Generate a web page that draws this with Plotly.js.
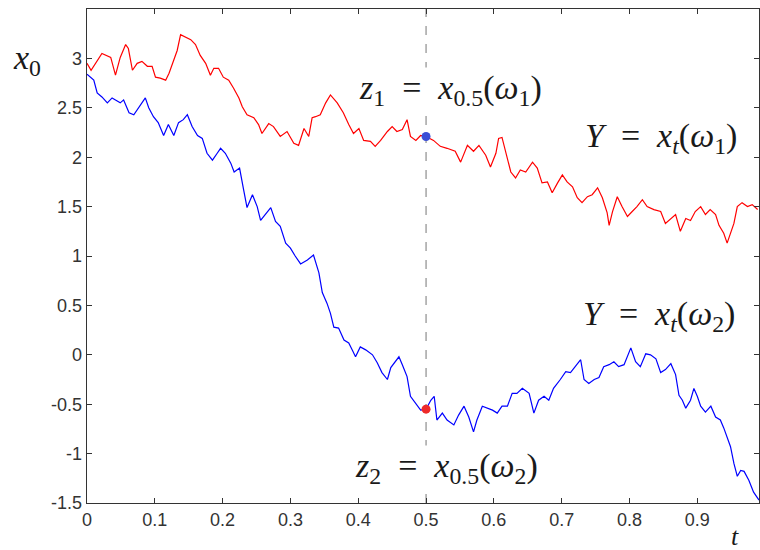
<!DOCTYPE html>
<html>
<head>
<meta charset="utf-8">
<script src="https://cdn.plot.ly/plotly-3.0.1.min.js"></script>
<style>
html,body{margin:0;padding:0;background:#fff;}
#warm{position:absolute;left:0;top:0;z-index:0;color:#fff;font-size:12px;line-height:14px;}
#chart{position:relative;z-index:1;width:760px;height:550px;}
</style>
</head>
<body>
<div id="warm"><span style="font-family:'Liberation Serif'">x <i>x</i></span> <span style="font-family:'Liberation Sans'">0</span></div>
<div id="chart"></div>
<script>
// Path ω1 (red)
const redT = [0,0.006,0.022,0.035,0.042,0.049,0.057,0.061,0.067,0.074,0.081,0.089,0.096,0.101,0.108,0.116,0.121,0.128,0.133,0.138,0.145,0.153,0.160,0.167,0.175,0.182,0.187,0.194,0.201,0.209,0.216,0.224,0.229,0.236,0.246,0.253,0.258,0.268,0.275,0.285,0.295,0.305,0.312,0.320,0.327,0.332,0.337,0.344,0.352,0.359,0.369,0.378,0.386,0.393,0.401,0.408,0.418,0.425,0.433,0.443,0.450,0.457,0.465,0.472,0.477,0.485,0.492,0.500,0.511,0.521,0.531,0.543,0.551,0.561,0.570,0.578,0.588,0.595,0.603,0.607,0.612,0.617,0.625,0.632,0.639,0.647,0.657,0.664,0.671,0.679,0.686,0.694,0.701,0.708,0.716,0.723,0.730,0.738,0.745,0.753,0.760,0.767,0.770,0.775,0.782,0.789,0.797,0.804,0.811,0.819,0.826,0.836,0.846,0.853,0.861,0.868,0.875,0.883,0.890,0.897,0.905,0.912,0.919,0.927,0.932,0.939,0.944,0.949,0.954,0.959,0.966,0.974,0.981,0.989];
const redY = [2.95,2.88,3.05,3.01,2.83,3.01,3.14,3.10,2.88,2.95,2.97,2.92,2.92,2.81,2.80,2.78,2.85,2.98,3.08,3.24,3.22,3.19,3.14,3.03,2.95,2.83,2.90,2.90,2.81,2.78,2.70,2.60,2.51,2.43,2.40,2.33,2.24,2.34,2.31,2.21,2.26,2.14,2.12,2.29,2.21,2.40,2.41,2.43,2.55,2.63,2.55,2.45,2.33,2.24,2.29,2.17,2.16,2.11,2.17,2.26,2.31,2.26,2.28,2.38,2.21,2.17,2.22,2.21,2.17,2.11,2.09,2.06,1.95,2.12,2.06,2.12,2.02,1.90,2.04,2.19,2.20,2.07,1.85,1.79,1.87,1.85,1.95,1.89,1.74,1.75,1.64,1.74,1.82,1.75,1.70,1.59,1.54,1.60,1.62,1.69,1.59,1.44,1.31,1.45,1.60,1.50,1.40,1.45,1.50,1.57,1.50,1.47,1.45,1.33,1.38,1.42,1.25,1.38,1.36,1.45,1.50,1.42,1.47,1.42,1.31,1.23,1.13,1.23,1.33,1.50,1.54,1.50,1.52,1.47];

// Path ω2 (blue)
const blueT = [0,0.010,0.015,0.022,0.030,0.037,0.042,0.049,0.054,0.062,0.069,0.076,0.081,0.086,0.091,0.098,0.105,0.113,0.120,0.128,0.135,0.142,0.148,0.155,0.163,0.170,0.177,0.185,0.192,0.197,0.204,0.212,0.217,0.225,0.231,0.236,0.244,0.251,0.256,0.263,0.271,0.278,0.285,0.293,0.300,0.307,0.315,0.325,0.334,0.342,0.347,0.354,0.359,0.364,0.371,0.379,0.386,0.391,0.396,0.403,0.411,0.421,0.428,0.435,0.443,0.448,0.455,0.460,0.465,0.472,0.477,0.485,0.492,0.500,0.507,0.512,0.516,0.524,0.531,0.541,0.548,0.556,0.563,0.570,0.575,0.583,0.590,0.598,0.605,0.612,0.620,0.627,0.634,0.642,0.652,0.659,0.666,0.674,0.681,0.688,0.698,0.706,0.713,0.720,0.728,0.733,0.740,0.748,0.755,0.762,0.770,0.777,0.784,0.792,0.802,0.809,0.816,0.824,0.831,0.839,0.846,0.853,0.861,0.868,0.873,0.878,0.883,0.890,0.895,0.900,0.905,0.912,0.920,0.927,0.934,0.939,0.944,0.949,0.954,0.959,0.964,0.969,0.976,0.983,0.991];
const blueY = [2.84,2.78,2.65,2.61,2.55,2.60,2.58,2.55,2.58,2.45,2.43,2.50,2.55,2.60,2.50,2.41,2.35,2.22,2.33,2.22,2.35,2.38,2.43,2.31,2.22,2.19,2.04,1.97,2.04,2.09,2.04,1.94,1.85,1.89,1.67,1.49,1.62,1.50,1.36,1.42,1.49,1.35,1.30,1.13,1.08,1.00,0.92,0.96,1.01,0.83,0.63,0.52,0.42,0.28,0.27,0.15,0.12,0.05,-0.02,0.08,0.05,0.00,-0.08,-0.18,-0.25,-0.13,-0.07,-0.02,-0.10,-0.22,-0.42,-0.49,-0.56,-0.55,-0.46,-0.42,-0.66,-0.59,-0.66,-0.71,-0.61,-0.52,-0.63,-0.78,-0.66,-0.52,-0.54,-0.56,-0.59,-0.52,-0.52,-0.39,-0.39,-0.34,-0.39,-0.59,-0.46,-0.42,-0.46,-0.34,-0.25,-0.17,-0.18,-0.12,-0.05,-0.25,-0.29,-0.25,-0.23,-0.12,-0.10,-0.07,-0.12,-0.10,0.07,-0.07,-0.12,0.01,0.00,-0.04,-0.18,-0.15,-0.09,-0.20,-0.41,-0.46,-0.54,-0.46,-0.34,-0.42,-0.52,-0.58,-0.52,-0.63,-0.66,-0.74,-0.83,-0.93,-1.10,-1.23,-1.17,-1.18,-1.27,-1.39,-1.47];

const sampleT = 0.5;
const xTickVals = [0,0.1,0.2,0.3,0.4,0.5,0.6,0.7,0.8,0.9];
const xTickText = ["0","0.1","0.2","0.3","0.4","0.5","0.6","0.7","0.8","0.9"];
const yTickVals = [-1.5,-1,-0.5,0,0.5,1,1.5,2,2.5,3,3.5];
const yTickText = ["-1.5","-1","-0.5","0","0.5","1","1.5","2","2.5","3","3.5"];

const z1 = redY[redT.indexOf(sampleT)];
const z2 = blueY[blueT.indexOf(sampleT)];

const sp = "\u2002";

function makeTraces() {
  return [
    {x: redT, y: redY, mode: "lines", line: {color: "#ff0000", width: 1.2}, hoverinfo: "skip"},
    {x: blueT, y: blueY, mode: "lines", line: {color: "#0000ff", width: 1.2}, hoverinfo: "skip"},
    {x: [sampleT], y: [z1], mode: "markers", marker: {color: "#3b4fd6", size: 9}},
    {x: [sampleT], y: [z2], mode: "markers", marker: {color: "#ee2a2a", size: 9}}
  ];
}

function serif(sz) { return {family: "Liberation Serif", size: sz, color: "#1a1a1a"}; }
function sans() { return {family: "Liberation Sans", size: 18, color: "#333"}; }

function makeLayout() {
  return {
    width: 760, height: 550,
    margin: {l: 87, r: 1, t: 9, b: 47},
    paper_bgcolor: "#fff", plot_bgcolor: "#fff",
    showlegend: false,
    xaxis: {
      range: [0, 0.991], tickvals: xTickVals, ticktext: xTickText,
      ticks: "inside", ticklen: 5, tickcolor: "#333", tickwidth: 1,
      showline: true, linecolor: "#333", linewidth: 1.3, mirror: "ticks",
      showgrid: false, zeroline: false, tickfont: sans()
    },
    yaxis: {
      range: [-1.5, 3.5], tickvals: yTickVals, ticktext: yTickText,
      ticks: "inside", ticklen: 5, tickcolor: "#333", tickwidth: 1,
      showline: true, linecolor: "#333", linewidth: 1.3, mirror: "ticks",
      showgrid: false, zeroline: false, tickfont: sans()
    },
    shapes: [{
      type: "line", xref: "x", yref: "paper", x0: sampleT, x1: sampleT, y0: 0, y1: 1,
      line: {color: "#777", width: 1, dash: "dash"}, layer: "below"
    }],
    annotations: [
      {x: 0.3975, y: 2.68, xanchor: "left", yanchor: "middle", showarrow: false, bgcolor: "#fff",
       text: "<i>z</i><sub>1</sub>" + sp + "=" + sp + "<i>x</i><sub>0.5</sub>(<i>ω</i><sub>1</sub>)",
       font: serif(34)},
      {x: 0.731, y: 2.19, xanchor: "left", yanchor: "middle", showarrow: false, bgcolor: "#fff",
       text: "<i>Y</i>" + sp + "=" + sp + "<i>x</i><sub><i>t</i></sub>(<i>ω</i><sub>1</sub>)",
       font: serif(34)},
      {x: 0.728, y: 0.39, xanchor: "left", yanchor: "middle", showarrow: false, bgcolor: "#fff",
       text: "<i>Y</i>" + sp + "=" + sp + "<i>x</i><sub><i>t</i></sub>(<i>ω</i><sub>2</sub>)",
       font: serif(34)},
      {x: 0.393, y: -1.146, xanchor: "left", yanchor: "middle", showarrow: false, bgcolor: "#fff",
       text: "<i>z</i><sub>2</sub>" + sp + "=" + sp + "<i>x</i><sub>0.5</sub>(<i>ω</i><sub>2</sub>)",
       font: serif(34)},
      {xref: "paper", yref: "paper", x: -0.09, y: 0.897, xanchor: "center", yanchor: "middle", showarrow: false,
       text: "<i>x</i><sub>0</sub>", font: serif(34)},
      {xref: "paper", yref: "paper", x: 0.964, y: -0.068, xanchor: "center", yanchor: "middle", showarrow: false,
       text: "<i>t</i>", font: serif(26)}
    ]
  };
}

const config = {displayModeBar: false, staticPlot: true};
Plotly.newPlot("chart", makeTraces(), makeLayout(), config);
if (document.fonts && document.fonts.load) {
  Promise.all([
    document.fonts.load('34px "Liberation Serif"'),
    document.fonts.load('italic 34px "Liberation Serif"'),
    document.fonts.load('18px "Liberation Sans"')
  ]).then(function () {
    Plotly.react("chart", makeTraces(), makeLayout(), config);
  }).catch(function () {});
}
</script>
</body>
</html>
